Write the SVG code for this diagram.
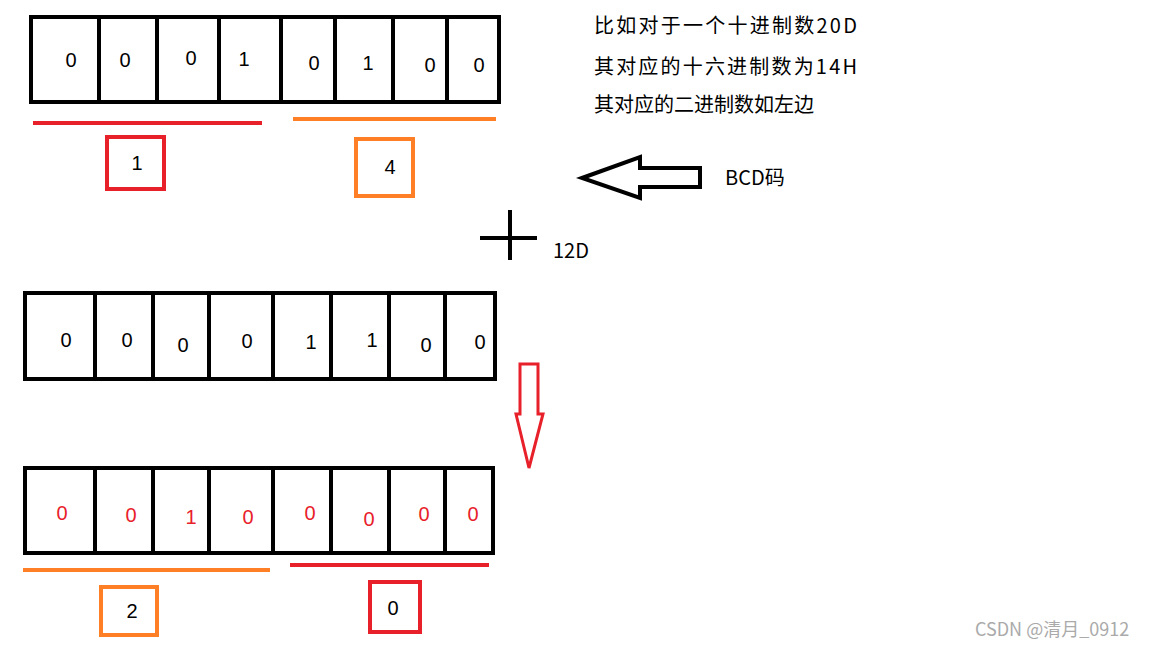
<svg xmlns="http://www.w3.org/2000/svg" width="1152" height="648" viewBox="0 0 1152 648">
<style>
.box{fill:none;stroke:#000;stroke-width:4}
.div{stroke:#000;stroke-width:4}
.d{font-family:"Liberation Sans",Arial,sans-serif;font-size:20px;fill:#000;text-anchor:middle}
.r{fill:#e8202a}
.t{font-family:"Noto Sans CJK SC","Liberation Sans",sans-serif;font-size:20px;fill:#000}
</style>
<rect width="1152" height="648" fill="#fff"/>
<g id="row1">
<rect class="box" x="31" y="17" width="468" height="85"/>
<path class="div" d="M99 17V102M157 17V102M219 17V102M281 17V104M335 17V102M393 17V102M447 17V102"/>
<text class="d" x="71" y="67">0</text><text class="d" x="125" y="67">0</text><text class="d" x="191" y="65">0</text><text class="d" x="244" y="66">1</text>
<text class="d" x="314" y="70">0</text><text class="d" x="368" y="70">1</text><text class="d" x="430" y="72">0</text><text class="d" x="479" y="72">0</text>
</g>
<g id="groups1">
<line x1="33" y1="123" x2="262" y2="123" stroke="#e8202a" stroke-width="4"/>
<line x1="293" y1="119" x2="496" y2="119" stroke="#ff7f27" stroke-width="4"/>
<rect x="107" y="137" width="57" height="52" fill="none" stroke="#e8202a" stroke-width="4"/>
<text class="d" x="137" y="170">1</text>
<rect x="356" y="139" width="57" height="57" fill="none" stroke="#ff7f27" stroke-width="4"/>
<text class="d" x="390" y="174">4</text>
</g>
<g id="notes">
<text class="t" x="594" y="33" textLength="263">比如对于一个十进制数20D</text>
<text class="t" x="594" y="74" textLength="263">其对应的十六进制数为14H</text>
<text class="t" x="594" y="112">其对应的二进制数如左边</text>
<text class="t" x="725" y="185">BCD码</text>
<text class="t" x="553" y="258">12D</text>
</g>
<g id="connectors">
<path d="M582 178L640 157V168H700V187H640V198Z" fill="none" stroke="#000" stroke-width="4" stroke-linejoin="miter"/>
<path d="M480 238H537M510 210V260" stroke="#000" stroke-width="4"/>
<path d="M520 364H538V414H543L529 468L516 414H520Z" fill="none" stroke="#e8202a" stroke-width="3"/>
</g>
<g id="row2">
<rect class="box" x="25" y="293" width="470" height="86"/>
<path class="div" d="M95 293V379M153 293V379M209 293V379M273 293V381M331 293V379M389 293V379M445 293V379"/>
<text class="d" x="66" y="347">0</text><text class="d" x="127" y="347">0</text><text class="d" x="183" y="352">0</text><text class="d" x="247" y="348">0</text>
<text class="d" x="311" y="349">1</text><text class="d" x="372" y="347">1</text><text class="d" x="426" y="352">0</text><text class="d" x="480" y="349">0</text>
</g>
<g id="row3">
<rect class="box" x="25" y="468" width="468" height="85"/>
<path class="div" d="M95 468V553M153 468V553M209 468V553M273 468V555M331 468V553M389 468V553M445 468V553"/>
<text class="d r" x="62" y="520">0</text><text class="d r" x="131" y="522">0</text><text class="d r" x="191" y="524">1</text><text class="d r" x="248" y="524">0</text>
<text class="d r" x="310" y="520">0</text><text class="d r" x="369" y="526">0</text><text class="d r" x="424" y="521">0</text><text class="d r" x="473" y="521">0</text>
</g>
<g id="groups3">
<line x1="23" y1="570" x2="270" y2="570" stroke="#ff7f27" stroke-width="4"/>
<line x1="290" y1="565" x2="489" y2="565" stroke="#e8202a" stroke-width="4"/>
<rect x="101" y="587" width="56" height="48" fill="none" stroke="#ff7f27" stroke-width="4"/>
<text class="d" x="132" y="618">2</text>
<rect x="370" y="582" width="50" height="50" fill="none" stroke="#e8202a" stroke-width="4"/>
<text class="d" x="393" y="615">0</text>
</g>
<text x="975" y="636" font-family="'Noto Sans CJK SC','Liberation Sans',sans-serif" font-size="18" fill="#aaa">CSDN @清月_0912</text>
</svg>
